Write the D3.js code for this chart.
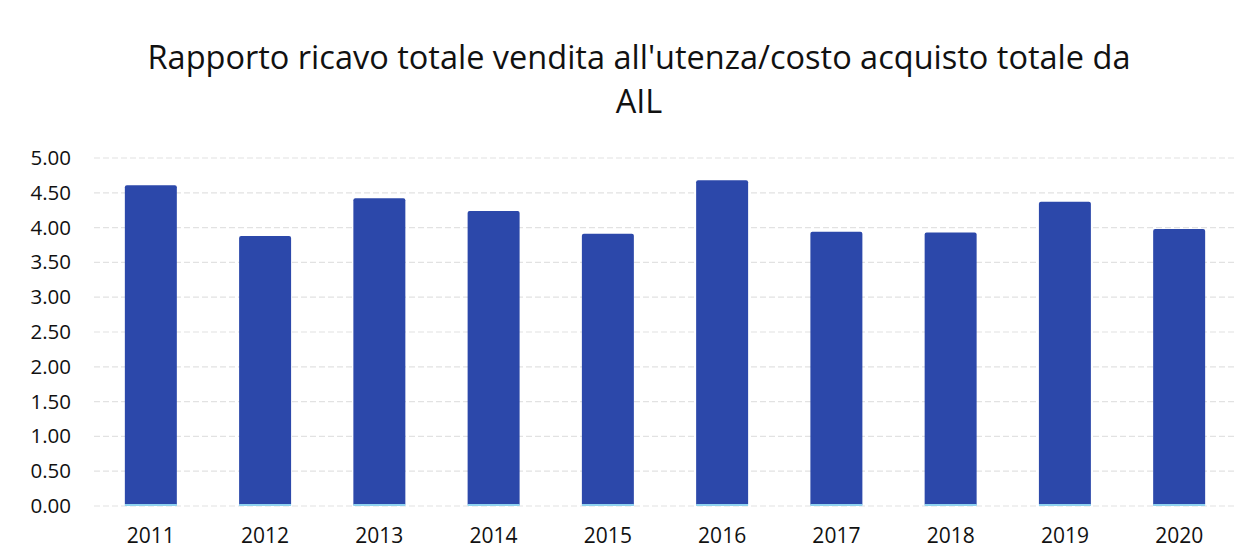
<!DOCTYPE html>
<html>
<head>
<meta charset="utf-8">
<script src="https://cdn.jsdelivr.net/npm/d3@7"></script>
<style>
  body { margin: 0; background: #fff; }
  text { font-family: "Open Sans", "Noto Sans", sans-serif; }
</style>
</head>
<body>
<div class="canvas"></div>
<script>
// chart data
const years = ['2011','2012','2013','2014','2015','2016','2017','2018','2019','2020'];
const ratios = [4.61, 3.88, 4.42, 4.24, 3.91, 4.68, 3.94, 3.93, 4.37, 3.98];
const yTicks = [0, 0.5, 1, 1.5, 2, 2.5, 3, 3.5, 4, 4.5, 5];
const titleLines = ["Rapporto ricavo totale vendita all'utenza/costo acquisto totale da", 'AIL'];

const canvasWidth = 1255;
const canvasHeight = 558;
const barColor = '#2c48aa';

const svg = d3.select('.canvas')
    .append('svg')
    .attr('width', canvasWidth)
    .attr('height', canvasHeight);

// margins
const margin = { top: 158, right: 19, bottom: 52, left: 94 };
const graphWidth = canvasWidth - margin.left - margin.right;
const graphHeight = canvasHeight - margin.top - margin.bottom;

const graph = svg.append('g')
    .attr('transform', `translate(${margin.left},${margin.top})`);

// title
svg.append('g').selectAll('text')
    .data(titleLines)
    .enter().append('text')
    .attr('x', 639)
    .attr('y', (d, i) => 69 + i * 44)
    .attr('text-anchor', 'middle')
    .attr('font-size', 32.5)
    .attr('fill', '#111')
    .text(d => d);

// scales
const y = d3.scaleLinear()
    .domain([0, 5])
    .range([graphHeight, 0]);

const x = d3.scaleBand()
    .domain(years)
    .range([0, graphWidth])
    .paddingInner(0.545)
    .paddingOuter(0.27);

// gridlines
graph.append('g').selectAll('line')
    .data(yTicks)
    .enter().append('line')
    .attr('x1', 0)
    .attr('x2', graphWidth)
    .attr('y1', d => y(d))
    .attr('y2', d => y(d))
    .attr('stroke', '#e2e2e2')
    .attr('stroke-width', 1.2)
    .attr('stroke-dasharray', '6,3');

// bars
graph.selectAll('rect.bar')
    .data(ratios)
    .enter().append('rect')
    .attr('class', 'bar')
    .attr('x', (d, i) => x(years[i]))
    .attr('y', d => y(d))
    .attr('width', x.bandwidth())
    .attr('height', d => graphHeight - y(d))
    .attr('rx', 2)
    .attr('fill', barColor);

// light base line under each bar
graph.selectAll('line.base')
    .data(ratios)
    .enter().append('line')
    .attr('class', 'base')
    .attr('x1', (d, i) => x(years[i]))
    .attr('x2', (d, i) => x(years[i]) + x.bandwidth())
    .attr('y1', graphHeight - 1)
    .attr('y2', graphHeight - 1)
    .attr('stroke', '#8fd3f0')
    .attr('stroke-width', 2);

// axes
const xAxis = d3.axisBottom(x).tickSize(0).tickPadding(22);
const yAxis = d3.axisLeft(y).tickValues(yTicks).tickSize(0).tickPadding(23)
    .tickFormat(d3.format('.2f'));

const xAxisGroup = graph.append('g')
    .attr('transform', `translate(0, ${graphHeight})`)
    .call(xAxis);
const yAxisGroup = graph.append('g').call(yAxis);

xAxisGroup.select('.domain').remove();
yAxisGroup.select('.domain').remove();

xAxisGroup.selectAll('text')
    .attr('font-size', 21)
    .attr('fill', '#111')
    .style('font-family', '"Open Sans", sans-serif');

yAxisGroup.selectAll('text')
    .attr('font-size', 20.5)
    .attr('fill', '#111')
    .style('font-family', '"Open Sans", sans-serif');
</script>
</body>
</html>
